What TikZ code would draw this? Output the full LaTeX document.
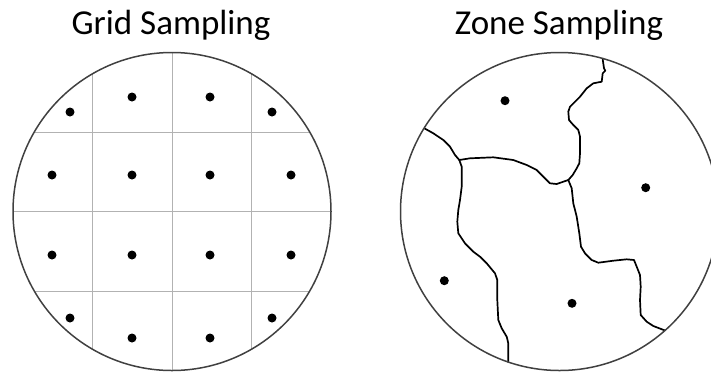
\documentclass[tikz,border=0pt]{standalone}
\usepackage{fontspec}
\setmainfont{Carlito}
\begin{document}
\begin{tikzpicture}[x=1pt,y=-1pt,
  title/.style={anchor=base, inner sep=0pt, font=\fontsize{35}{42}\selectfont},
  sample/.style={circle, fill=black, inner sep=0pt, minimum size=9pt},
  wafer/.style={draw=black!75, line width=1.5pt},
  cell/.style={draw=black!30, line width=0.9pt},
  zone/.style={draw=black, line width=1.7pt, line join=round, line cap=round}]
  \useasboundingbox (0,0) rectangle (711,373);
  % titles
  \node[title] (gridtitle) at (171,34.3) {Grid Sampling};
  \node[title] (zonetitle) at (559,34.3) {Zone Sampling};
  % grid sampling wafer
  \coordinate (gc) at (172,211.5);
  \begin{scope}
    \clip (gc) circle (159);
    \foreach \v in {-79.5,0,79.5} {
      \draw[cell] ([xshift=\v pt]gc) ++(0,-170) -- ++(0,340);
      \draw[cell] ([yshift=\v pt]gc) ++(-170,0) -- ++(340,0);
    }
  \end{scope}
  \draw[wafer] (gc) circle (159);
  \foreach \x/\y [count=\i] in {132/97,210/97,70/112,272/112,
      52/175,132/175,210/175,291/175,
      52/255,132/255,210/255,291/255,
      70/318,272/318,132/338,210/338}
    \node[sample] (g\i) at (\x,\y) {};
  % zone sampling wafer
  \coordinate (zc) at (559.5,211.5);
  \coordinate (ja) at (568.3,180);
  \coordinate (jb) at (459.3,160);
  \draw[zone] (602.7,59.3) -- (604,68.3) -- (605.3,70.7) -- (602.7,73.3) -- (601.7,81.7)
    -- (593.3,83.3) -- (586.7,88.3) -- (580,96.7) -- (575,101.7) -- (570,106.7)
    -- (568.3,111.7) -- (569,120) -- (573.3,125) -- (578.3,130) -- (580,136.7)
    -- (580,153.3) -- (579.3,163.3) -- (576.7,168.3) -- (572.7,175) -- (ja);
  \draw[zone] (424.3,128.3) -- (433.3,133.3) -- (443.3,140) -- (450,146.7) -- (455,155) -- (jb);
  \draw[zone] (jb) -- (470,158.3) -- (493.3,157.3) -- (513.3,160) -- (526.7,165)
    -- (536.7,170) -- (543.3,176.7) -- (550,183.3) -- (556.7,184) -- (563.3,181.7) -- (ja);
  \draw[zone] (jb) -- (461.7,166.7) -- (461.7,186.7) -- (460,200) -- (458.3,210)
    -- (457.3,221.7) -- (458.3,233.3) -- (465,243.3) -- (473.3,251.7) -- (480,256.7)
    -- (486.7,263.3) -- (495,273.3) -- (497.3,280) -- (497.3,300) -- (498.3,320)
    -- (501.7,328.3) -- (506.7,336.7) -- (508.3,343.3) -- (508.3,362);
  \draw[zone] (ja) -- (571.7,188.3) -- (573.3,203.3) -- (576.7,216.7) -- (579.3,233.3)
    -- (581,246.7) -- (585,253.3) -- (591.7,260) -- (598.3,262.7) -- (613.3,260.7)
    -- (626.7,259.3) -- (634,260) -- (636.7,266.7) -- (640,275) -- (640.7,286.7)
    -- (640,300) -- (640.7,315) -- (646.7,321.7) -- (653.3,326) -- (665,330.5);
  \draw[wafer] (zc) circle (159);
  \foreach \x/\y [count=\i] in {505/100.7,645.7/187.7,444.3/280.7,572/303.3}
    \node[sample] (z\i) at (\x,\y) {};
\end{tikzpicture}
\end{document}
